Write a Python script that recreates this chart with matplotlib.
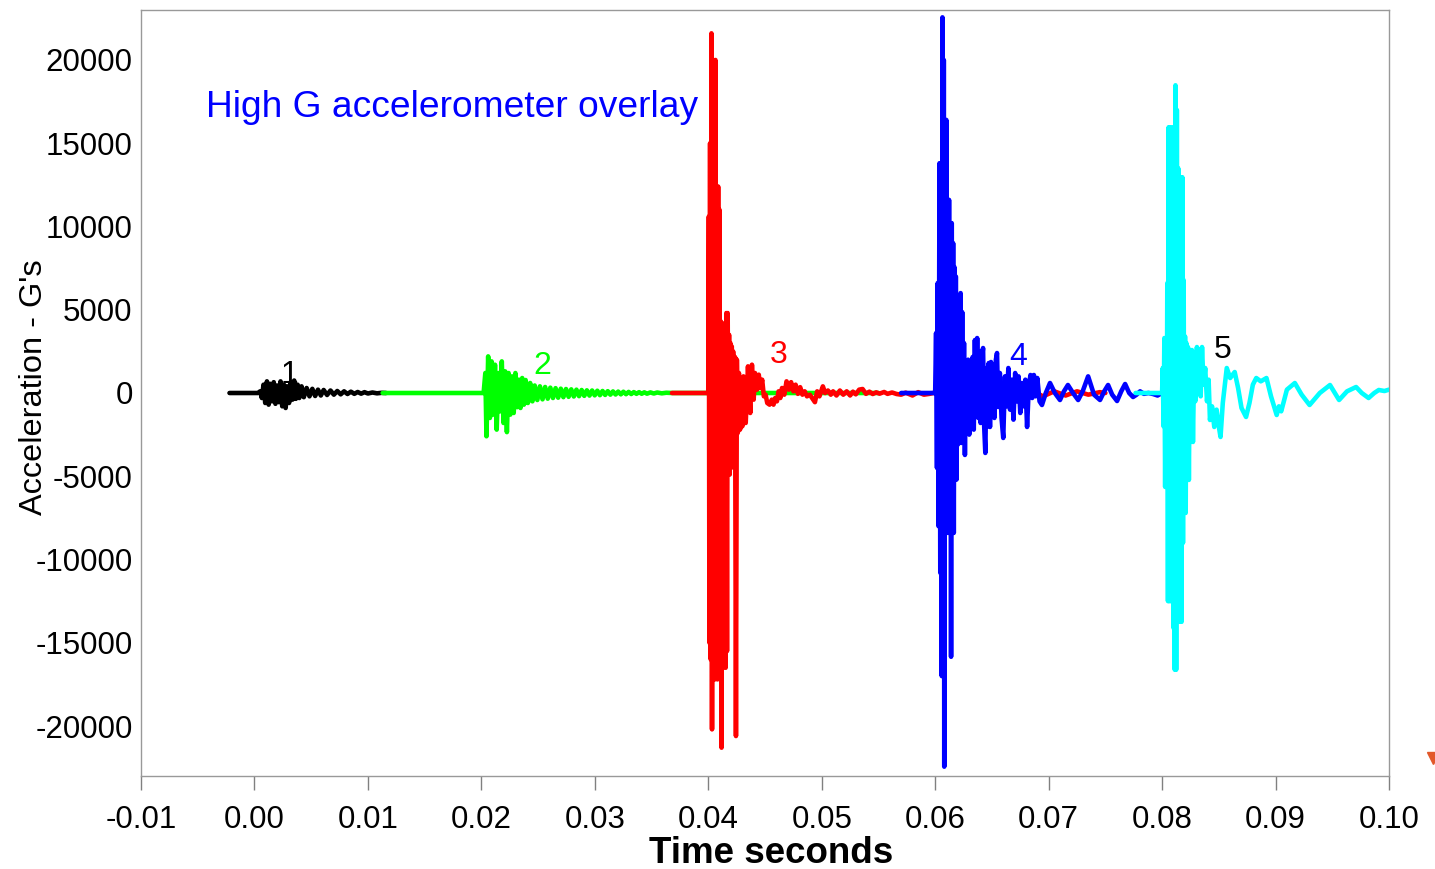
import matplotlib
matplotlib.use("Agg")
import matplotlib.pyplot as plt
from matplotlib.lines import Line2D

plt.rcParams['font.family'] = ['Liberation Sans', 'DejaVu Sans']

# Each trace: (time in ms, acceleration in G) vertices
trace1 = [(-2.2, 0), (0.3, 0), (0.5, 100), (0.65, -300), (0.8, 500), (0.95, -600), (1.1, 700),
          (1.25, -700), (1.4, 550), (1.55, -500), (1.7, 650), (1.85, -650), (2.0, 450), (2.15, -550),
          (2.3, 700), (2.45, -800), (2.6, 500), (2.75, -900), (2.9, 400), (3.05, -600), (3.2, 650),
          (3.35, -400), (3.5, 750), (3.65, -350), (3.8, 500), (3.95, -300), (4.15, 400), (4.35, -250),
          (4.6, 300), (4.85, -200), (5.1, 250), (5.35, -180), (5.6, 200), (5.85, -150), (6.1, 180),
          (6.4, -120), (6.7, 150), (7.0, -100), (7.3, 120), (7.6, -80), (7.9, 100), (8.2, -60),
          (8.5, 80), (8.8, -50), (9.1, 60), (9.4, -40), (9.7, 50), (10.0, -30), (10.4, 30),
          (10.8, -20), (11.2, 10), (11.6, 0)]

trace2 = [(11.3, 0), (20.2, 0), (20.35, 1200), (20.45, -2600), (20.6, 2200), (20.75, -1500),
          (20.9, 1900), (21.05, -1300), (21.2, 1700), (21.35, -2200), (21.5, 1200), (21.65, -1100),
          (21.8, 1900), (21.95, -1800), (22.1, 1300), (22.25, -2350), (22.4, 1200), (22.55, -1300),
          (22.7, 1000), (22.85, -1200), (23.0, 1200), (23.15, -850), (23.3, 800), (23.45, -900),
          (23.6, 900), (23.75, -700), (23.9, 780), (24.1, -600), (24.3, 600), (24.5, -500),
          (24.7, 450), (24.93, -420), (25.16, 400), (25.39, -380), (25.62, 360), (25.85, -340),
          (26.08, 320), (26.31, -300), (26.54, 290), (26.77, -280), (27.0, 260), (27.23, -250),
          (27.46, 240), (27.69, -230), (27.92, 220), (28.15, -210), (28.38, 200), (28.61, -190),
          (28.84, 180), (29.07, -170), (29.3, 160), (29.53, -155), (29.76, 150), (29.99, -140),
          (30.22, 135), (30.45, -130), (30.68, 120), (30.91, -115), (31.14, 110), (31.37, -100),
          (31.6, 95), (31.83, -90), (32.06, 85), (32.29, -80), (32.52, 75), (32.75, -70),
          (32.98, 65), (33.21, -60), (33.44, 55), (33.67, -50), (33.9, 50), (34.13, -45),
          (34.36, 40), (34.6, -40), (34.9, 35), (35.2, -30), (35.5, 30), (35.9, -20), (36.3, 15),
          (36.8, 0), (55.0, 0)]

trace3 = [(36.8, 0), (39.95, 0), (40.0, 0), (40.05, 10600), (40.1, -15000), (40.16, 15000),
          (40.22, -16000), (40.28, 21600), (40.33, -20200), (40.39, 20000), (40.45, -17000),
          (40.51, 19500), (40.57, -17200), (40.63, 20000), (40.69, -16800), (40.75, 12400),
          (40.81, -17200), (40.87, 12400), (40.93, -17000), (40.99, 11000), (41.05, -16500),
          (41.11, 4300), (41.17, -21300), (41.23, 4000), (41.29, -16500), (41.35, 3800),
          (41.41, -16000), (41.47, 4200), (41.53, -16500), (41.59, 4800), (41.65, -15500),
          (41.71, 4800), (41.77, -4000), (41.83, 3500), (41.89, -4900), (41.95, 3000),
          (42.01, -4500), (42.07, 2800), (42.13, -4000), (42.19, 2500), (42.28, -3000),
          (42.36, 2160), (42.44, -20600), (42.52, 2000), (42.6, -2400), (42.7, 1200),
          (42.8, -2200), (42.9, 800), (43.0, -2000), (43.1, 1000), (43.3, -1800), (43.5, 1600),
          (43.7, -1200), (43.85, 1700), (44.0, -400), (44.12, 1200), (44.3, 200), (44.45, 1100),
          (44.6, 300), (44.75, 800), (44.9, -200), (45.05, -100), (45.2, -600), (45.4, -700),
          (45.6, -400), (45.75, -700), (45.9, -300), (46.05, -500), (46.2, 100), (46.35, -300),
          (46.5, 300), (46.7, -100), (46.9, 700), (47.1, 200), (47.3, 650), (47.5, 100),
          (47.7, 500), (47.9, -50), (48.1, 350), (48.3, -100), (48.5, 100), (48.7, -200),
          (48.95, -100), (49.15, -300), (49.4, -550), (49.6, 100), (49.8, -200), (50.1, 400),
          (50.3, 0), (50.55, 150), (50.8, -100), (51.0, 100), (51.3, -150), (51.6, 150),
          (51.9, -100), (52.2, 100), (52.5, -150), (52.75, 80), (53.0, -80), (53.3, 200),
          (53.6, 240), (53.9, -50), (54.2, 80), (54.5, -60), (54.8, 40), (55.1, -40), (55.5, 60),
          (55.8, -50), (56.2, 30), (56.6, -60), (57.0, -100), (57.4, 20), (58.0, -150),
          (58.5, 50), (59.0, -100), (59.5, -50), (60.5, 100), (61.5, -150), (62.5, 200),
          (63.5, -150), (64.5, 150), (65.5, -200), (66.5, 100), (67.5, -150), (68.5, 150),
          (69.5, -200), (70.5, 100), (71.5, -150), (72.5, 100), (73.5, -100), (74.5, 50), (75.0, 0)]

trace4 = [(57.0, 0), (60.0, 0), (60.08, 3600), (60.16, -4500), (60.22, 6600), (60.3, -8000),
          (60.38, 13800), (60.45, -10800), (60.52, 13800), (60.58, -17000), (60.64, 22560),
          (60.7, -17000), (60.76, 20000), (60.8, -22440), (60.86, 16400), (60.92, -8400),
          (60.98, 16400), (61.04, -8400), (61.1, 11600), (61.16, -8400), (61.22, 11600),
          (61.28, -8400), (61.34, 10200), (61.4, -15840), (61.46, 10200), (61.52, -8400),
          (61.58, 9000), (61.64, -8400), (61.7, 7560), (61.76, -5200), (61.82, 7000),
          (61.88, -5200), (61.94, 5000), (62.0, -3100), (62.08, 4000), (62.16, -2500),
          (62.24, 6000), (62.3, -3000), (62.38, 4860), (62.46, -2800), (62.54, 3000),
          (62.62, -3720), (62.7, 1500), (62.8, -2000), (62.9, 2000), (63.0, -2500), (63.1, 1500),
          (63.2, -1800), (63.3, 2160), (63.4, -2200), (63.5, 3180), (63.6, -1300), (63.7, 3300),
          (63.8, -1500), (63.9, 2500), (64.0, -1800), (64.1, 2000), (64.22, 2700), (64.32, -2000),
          (64.42, -3600), (64.52, 1500), (64.62, -2000), (64.72, 1800), (64.83, -2040),
          (64.92, 1860), (65.02, -1200), (65.12, 1500), (65.22, -1500), (65.35, 2000),
          (65.45, 2400), (65.55, -840), (65.7, 1200), (65.85, -1500), (66.0, -2700), (66.15, 1000),
          (66.3, -800), (66.45, 1500), (66.6, -1000), (66.75, 800), (66.9, -1600), (67.05, 1200),
          (67.2, -500), (67.35, 1000), (67.5, -1200), (67.65, 600), (67.8, -800), (67.95, 800),
          (68.1, -2040), (68.25, 400), (68.4, 1080), (68.55, -300), (68.7, 1080), (68.85, -200),
          (69.0, 900), (69.2, -500), (69.41, -720), (69.75, 0), (70.12, 600), (70.55, 0),
          (71.0, -420), (71.35, 100), (71.7, 480), (72.15, 0), (72.6, -420), (73.0, 100),
          (73.48, 1000), (74.0, -100), (74.53, -420), (74.9, 100), (75.24, 480), (75.6, -100),
          (76.03, -480), (76.4, 100), (76.74, 540), (77.1, 0), (77.44, -240), (77.75, -100),
          (78.06, 100), (78.4, -50), (78.8, 0), (79.2, -60), (79.6, -150), (80.0, 0)]

trace5 = [(77.66, 0), (80.0, 0), (80.06, 1500), (80.13, -2000), (80.2, 3300), (80.27, -5640),
          (80.34, 3300), (80.4, -5600), (80.46, 6600), (80.52, -12500), (80.58, 15960),
          (80.64, -12500), (80.7, 15960), (80.76, -12500), (80.82, 15000), (80.88, -12500),
          (80.94, 15960), (81.0, -14100), (81.06, 15000), (81.12, -16620), (81.18, 18480),
          (81.24, -16620), (81.3, 17000), (81.36, -13740), (81.42, 13500), (81.48, -13740),
          (81.54, 13000), (81.6, -13740), (81.66, 12960), (81.72, -13740), (81.78, 12960),
          (81.84, -9000), (81.9, 6780), (81.96, -7200), (82.02, 3400), (82.08, -7200),
          (82.14, 3000), (82.2, -5220), (82.28, 2760), (82.36, -5220), (82.44, 2000),
          (82.52, -2940), (82.63, 2580), (82.72, -2940), (82.82, 1500), (82.92, -500),
          (83.07, 2760), (83.2, 0), (83.3, 2600), (83.4, -200), (83.52, 2760), (83.65, 500),
          (83.8, 1500), (83.96, -500), (84.1, 800), (84.22, -1620), (84.4, -800), (84.6, -2040),
          (84.8, -1000), (85.0, -2000), (85.15, -2640), (85.35, -600), (85.7, 1500), (86.0, 900),
          (86.4, 1260), (86.7, 300), (87.0, -900), (87.4, -1440), (87.7, -600), (88.0, 500),
          (88.3, 900), (88.7, 700), (89.2, 900), (89.6, -200), (90.1, -1320), (90.3, -800),
          (90.5, -1100), (91.0, 200), (91.7, 600), (92.3, -100), (93.0, -720), (93.9, 0),
          (94.8, 480), (95.6, -420), (96.3, 100), (97.1, 360), (97.6, 0), (98.2, -300),
          (98.7, 0), (99.1, 180), (99.6, 120), (100.0, 200)]

trace_colors = ['#000000', '#00FF00', '#FF0000', '#0000FF', '#00FFFF']
trace_labels = ['1', '2', '3', '4', '5']
label_colors = ['#000000', '#00FF00', '#FF0000', '#0000FF', '#000000']
label_pos_ms = [3.1, 25.4, 46.2, 67.3, 85.3]
label_pos_g = [1080, 1620, 2280, 2160, 2580]

x_ticks = [-0.01, 0.00, 0.01, 0.02, 0.03, 0.04, 0.05, 0.06, 0.07, 0.08, 0.09, 0.10]
y_ticks = [-20000, -15000, -10000, -5000, 0, 5000, 10000, 15000, 20000]

fig = plt.figure(figsize=(14.35, 8.69), dpi=100)
ax = fig.add_axes([141 / 1435, 1 - 776 / 869, 1248 / 1435, 766 / 869])

traces = [trace1, trace2, trace3, trace4, trace5]
draw_order = [1, 0, 2, 3, 4]
for i in draw_order:
    t_ms, g = zip(*traces[i])
    ax.plot([t / 1000 for t in t_ms], g, color=trace_colors[i], lw=3.3,
            solid_joinstyle='round', solid_capstyle='round', zorder=2 + i)

for lab, col, tx, gy in zip(trace_labels, label_colors, label_pos_ms, label_pos_g):
    ax.text(tx / 1000, gy, lab, color=col, fontsize=23, ha='center', va='center', zorder=10)

ax.text(0.052, 0.873, "High G accelerometer overlay", transform=ax.transAxes,
        color='#0000FF', fontsize=26.7, ha='left', va='center')

ax.set_xlim(-0.01, 0.10)
ax.set_ylim(-23000, 23000)
ax.set_xticks(x_ticks)
ax.set_xticklabels([f"{v:.2f}" for v in x_ticks])
ax.set_yticks(y_ticks)
ax.set_yticklabels([str(v) for v in y_ticks])
ax.tick_params(axis='x', direction='out', length=10, width=1, color='#808080',
               labelsize=22.5, pad=11)
ax.tick_params(axis='y', length=0, labelsize=22.5, pad=6)
for lab in ax.get_yticklabels():
    lab.set_verticalalignment('center_baseline')
for sp in ax.spines.values():
    sp.set_color('#999999')
    sp.set_linewidth(1)

ax.set_xlabel("Time seconds", fontsize=26.5, fontweight='bold', labelpad=0)
ax.set_ylabel("Acceleration - G's", fontsize=23.4, labelpad=4)
ax.xaxis.set_label_coords(0.505, -0.078)
ax.yaxis.set_label_coords(-0.074, 0.508)

# small marker at the right edge of the figure
fig.add_artist(Line2D([1433 / 1435], [1 - 758 / 869], marker='v', markersize=9,
                      color='#E2582A', transform=fig.transFigure, clip_on=False))

fig.savefig("out.png", dpi=100)
